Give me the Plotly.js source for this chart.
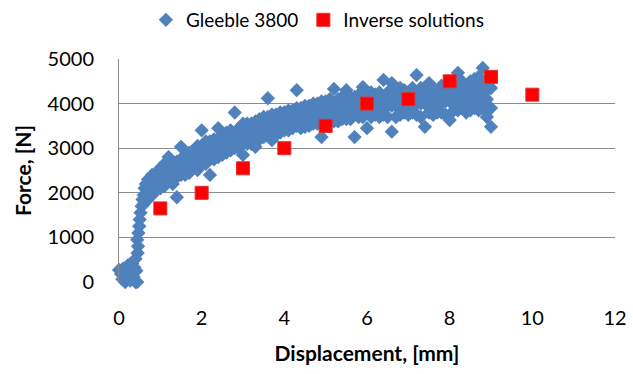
<!DOCTYPE html>
<html>
<head>
<meta charset="utf-8">
<script src="https://cdn.plot.ly/plotly-3.0.1.min.js"></script>
<style>
  html, body { margin: 0; padding: 0; background: #fff; }
  #chart { width: 633px; height: 374px; }
</style>
</head>
<body>
<div id="chart"></div>
<script>
// Gleeble 3800 measurement: initial loading ramp (displacement mm, force N)
const rampDisp  = [0.00, 0.05, 0.08, 0.10, 0.12, 0.15, 0.17, 0.20, 0.22, 0.25, 0.27, 0.30, 0.32, 0.35, 0.37, 0.40, 0.40, 0.42, 0.44, 0.45, 0.46, 0.44, 0.47, 0.49, 0.50, 0.52, 0.55, 0.57, 0.60, 0.62, 0.65, 0.60];
const rampForce = [270, 180, 60, 300, 150, 0, 250, 80, 380, 180, 30, 280, 420, 120, 330, 0, 520, 250, 0, 650, 800, 950, 1100, 1250, 1400, 1550, 1700, 1850, 1950, 2100, 2200, 1750];

// Gleeble 3800 measurement: scatter band, several force readings per displacement step
const bandDisp = [0.7, 0.8, 0.9, 1.0, 1.1, 1.2, 1.3, 1.4, 1.5, 1.6, 1.7, 1.8, 1.9, 2.0, 2.1, 2.2, 2.3, 2.4, 2.5, 2.6, 2.7, 2.8, 2.9, 3.0,
                  3.1, 3.2, 3.3, 3.4, 3.5, 3.6, 3.7, 3.8, 3.9, 4.0, 4.1, 4.2, 4.3, 4.4, 4.5, 4.6, 4.7, 4.8, 4.9, 5.0,
                  5.1, 5.2, 5.3, 5.4, 5.5, 5.6, 5.7, 5.8, 5.9, 6.0, 6.1, 6.2, 6.3, 6.4, 6.5, 6.6, 6.7, 6.8, 6.9, 7.0,
                  7.1, 7.2, 7.3, 7.4, 7.5, 7.6, 7.7, 7.8, 7.9, 8.0, 8.1, 8.2, 8.3, 8.4, 8.5, 8.6, 8.7, 8.8, 8.9, 9.0];
const bandForce = [
  [2300, 2150, 2000, 1850], [2400, 2250, 2100, 1950], [2450, 2300, 2200, 2050], [2550, 2400, 2250, 2100],
  [2650, 2450, 2300, 2150], [2800, 2550, 2400, 2250], [2650, 2500, 2350, 2200], [2700, 2550, 2350, 1900],
  [3030, 2750, 2600, 2400], [2850, 2700, 2550, 2400], [2900, 2750, 2600, 2450], [2950, 2800, 2650, 2550],
  [3050, 2900, 2700, 2510], [3400, 3050, 2850, 2650], [3150, 2950, 2800, 2650], [3150, 3000, 2850, 2400],
  [3200, 3050, 2900, 2750], [3450, 3150, 2950, 2800], [3300, 3150, 3000, 2850], [3350, 3200, 3050, 2900],
  [3400, 3250, 3100, 2950], [3800, 3350, 3150, 3000], [3450, 3300, 3150, 3000], [3550, 3350, 3200, 2850],
  [3550, 3400, 3250, 3100], [3550, 3400, 3250, 3100], [3600, 3450, 3300, 3030], [3650, 3500, 3350, 3200],
  [3700, 3550, 3400, 3250], [4120, 3700, 3500, 3300], [3750, 3600, 3450, 3180], [3750, 3600, 3450, 3300],
  [3800, 3650, 3500, 3350], [3800, 3650, 3500, 3400], [3850, 3700, 3550, 3400], [3850, 3700, 3550, 3450],
  [4300, 3900, 3700, 3500], [3900, 3750, 3600, 3450], [3950, 3800, 3650, 3480], [3950, 3800, 3650, 3500],
  [4000, 3850, 3700, 3550], [4000, 3850, 3700, 3550], [4050, 3850, 3700, 3250], [4050, 3900, 3700, 3550],
  [4100, 3900, 3750, 3600], [4330, 3950, 3750, 3600], [4100, 3950, 3800, 3600], [4150, 3950, 3800, 3650],
  [4300, 4000, 3800, 3650], [4150, 4000, 3850, 3650], [4150, 4000, 3850, 3250], [4200, 4000, 3850, 3700],
  [4370, 4050, 3850, 3700], [4200, 4050, 3900, 3450], [4250, 4050, 3900, 3700], [4200, 4050, 3900, 3750],
  [4250, 4100, 3900, 3700], [4530, 4100, 3950, 3750], [4250, 4100, 3950, 3700], [4460, 4100, 3950, 3370],
  [4300, 4100, 3950, 3700], [4350, 4150, 3950, 3750], [4300, 4100, 3950, 3800], [4250, 4100, 3950, 3750],
  [4350, 4150, 4000, 3800], [4640, 4200, 4000, 3750], [4350, 4150, 4000, 3700], [4300, 4150, 4000, 3480],
  [4460, 4200, 4000, 3800], [4350, 4200, 4000, 3750], [4300, 4150, 4000, 3800], [4400, 4200, 4000, 3800],
  [4400, 4200, 4050, 3750], [4350, 4200, 4050, 3630], [4450, 4250, 4050, 3850], [4690, 4300, 4100, 3850],
  [4500, 4250, 4050, 3900], [4400, 4200, 4050, 3800], [4500, 4300, 4100, 3850], [4550, 4300, 4100, 3900],
  [4600, 4350, 4100, 3850], [4800, 4400, 4150, 3900], [4550, 4300, 4100, 3700], [4600, 4350, 3900, 3480]
];

// Inverse solutions
const inverseDisp  = [1, 2, 3, 4, 5, 6, 7, 8, 9, 10];
const inverseForce = [1650, 2000, 2550, 3000, 3500, 4000, 4100, 4500, 4600, 4200];

// Axis ticks
const xTicks = [0, 2, 4, 6, 8, 10, 12];
const yTicks = [0, 1000, 2000, 3000, 4000, 5000];

// flatten the band table into x/y pairs
const gleebleX = rampDisp.slice();
const gleebleY = rampForce.slice();
bandDisp.forEach((d, i) => {
  bandForce[i].forEach(f => { gleebleX.push(d); gleebleY.push(f); });
});

const FONT = 'Lato, "Open Sans", "Liberation Sans", sans-serif';

const traces = [
  {
    type: 'scatter', mode: 'markers', name: 'Gleeble 3800',
    x: gleebleX, y: gleebleY,
    marker: { symbol: 'diamond', size: 11, color: '#4F81BD', line: { width: 0 } },
    cliponaxis: false
  },
  {
    type: 'scatter', mode: 'markers', name: 'Inverse solutions',
    x: inverseDisp, y: inverseForce,
    marker: { symbol: 'square', size: 13, color: '#FF0000', line: { width: 1, color: '#E03030' } }
  }
];

const layout = {
  width: 633, height: 374,
  margin: { l: 119, r: 18, t: 59, b: 92, autoexpand: false },
  paper_bgcolor: '#ffffff', plot_bgcolor: '#ffffff',
  font: { family: FONT, size: 20, color: '#000000' },
  showlegend: true,
  legend: {
    orientation: 'h', x: 0.40, xanchor: 'center', y: 1.175, yanchor: 'middle',
    font: { family: FONT, size: 19, color: '#000' }, itemwidth: 30, tracegroupgap: 0
  },
  xaxis: {
    range: [0, 12], tickvals: xTicks, ticktext: xTicks.map(String),
    showgrid: false, zeroline: false, showline: false, automargin: false,
    ticks: '', ticklabelstandoff: 22,
    tickfont: { family: FONT, size: 20 },
    title: { text: '<b>Displacement, [mm]</b>', font: { family: FONT, size: 21 }, standoff: 18 }
  },
  yaxis: {
    range: [0, 5000], tickvals: yTicks, ticktext: yTicks.map(String),
    showgrid: true, gridcolor: '#8C8C8C', gridwidth: 1, automargin: false,
    zeroline: false, showline: true, linecolor: '#8C8C8C', linewidth: 1,
    ticks: '', ticklabelstandoff: 20,
    tickfont: { family: FONT, size: 20 },
    title: { text: '<b>Force, [N]</b>', font: { family: FONT, size: 21 }, standoff: 10 }
  }
};

Plotly.newPlot('chart', traces, layout, { displayModeBar: false, staticPlot: true });
</script>
</body>
</html>
